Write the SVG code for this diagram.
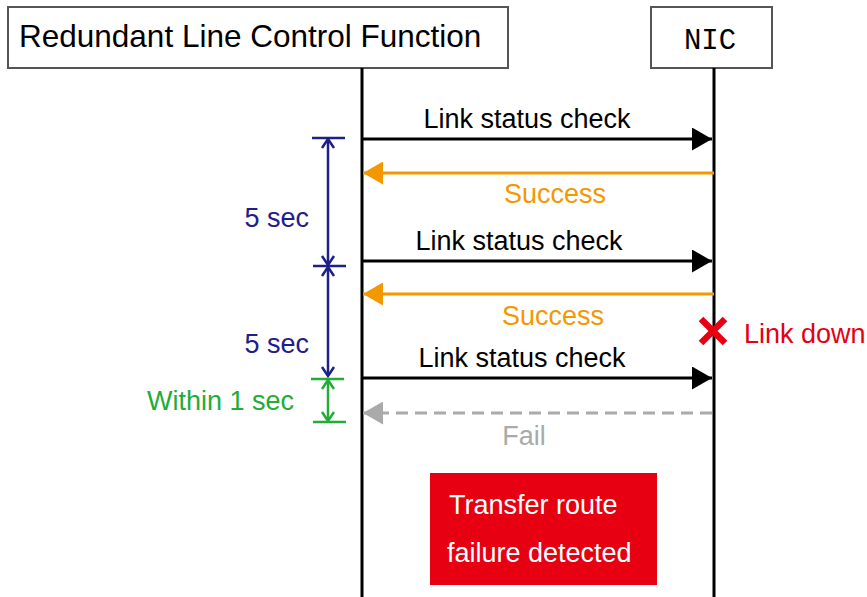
<svg xmlns="http://www.w3.org/2000/svg" width="867" height="597" viewBox="0 0 867 597">
<defs>
<style>
text{font-family:"Liberation Sans",Arial,sans-serif;font-size:27px}
.box{fill:#fff;stroke:#555;stroke-width:2}
.life{stroke:#000;stroke-width:3;fill:none}
.msg{stroke:#000;stroke-width:3;fill:none;marker-end:url(#ahBlack)}
.ok{stroke:#f39800;stroke-width:3;fill:none;marker-end:url(#ahOrange)}
.fail{stroke:#aaa;stroke-width:3;fill:none;stroke-dasharray:12 7;marker-end:url(#ahGray)}
.dimb{stroke:#1d2088;stroke-width:2.5;fill:none}
.dimg{stroke:#22ac38;stroke-width:2.5;fill:none}
.dimbA{stroke:#1d2088;stroke-width:2.5;fill:none;marker-start:url(#chB);marker-end:url(#chB)}
.dimgA{stroke:#22ac38;stroke-width:2.5;fill:none;marker-start:url(#chG);marker-end:url(#chG)}
</style>
<marker id="ahBlack" viewBox="0 0 20 23" refX="20" refY="11.5" markerWidth="20" markerHeight="23" markerUnits="userSpaceOnUse" orient="auto"><path d="M0,0 L20,11.5 L0,23 z" fill="#000"/></marker>
<marker id="ahOrange" viewBox="0 0 20 23" refX="20" refY="11.5" markerWidth="20" markerHeight="23" markerUnits="userSpaceOnUse" orient="auto"><path d="M0,0 L20,11.5 L0,23 z" fill="#f39800"/></marker>
<marker id="ahGray" viewBox="0 0 20 23" refX="20" refY="11.5" markerWidth="20" markerHeight="23" markerUnits="userSpaceOnUse" orient="auto"><path d="M0,0 L20,11.5 L0,23 z" fill="#aaa"/></marker>
<marker id="chB" viewBox="-11 -8 13 16" refX="0" refY="0" markerWidth="13" markerHeight="16" markerUnits="userSpaceOnUse" orient="auto-start-reverse"><path d="M-9,-6 L0,0 L-9,6" fill="none" stroke="#1d2088" stroke-width="2.5"/></marker>
<marker id="chG" viewBox="-11 -8 13 16" refX="0" refY="0" markerWidth="13" markerHeight="16" markerUnits="userSpaceOnUse" orient="auto-start-reverse"><path d="M-9,-6 L0,0 L-9,6" fill="none" stroke="#22ac38" stroke-width="2.5"/></marker>
</defs>
<rect width="867" height="597" fill="#fff"/>

<g id="node-rlcf">
<rect class="box" x="8" y="7" width="500" height="61"/>
<text x="19" y="47" style="font-size:31.5px">Redundant Line Control Function</text>
</g>
<g id="node-nic">
<rect class="box" x="651" y="7" width="121" height="61"/>
<text x="710" y="49" text-anchor="middle" style="font-family:'Liberation Mono','DejaVu Sans Mono',monospace;font-size:29px">NIC</text>
</g>

<g id="lifelines">
<line class="life" x1="362" y1="68" x2="362" y2="597"/>
<line class="life" x1="714" y1="68" x2="714" y2="597"/>
</g>

<g id="connectors">
<line class="msg" x1="362" y1="139" x2="712" y2="139"/>
<line class="ok" x1="714" y1="173" x2="363" y2="173"/>
<line class="msg" x1="362" y1="261" x2="712" y2="261"/>
<line class="ok" x1="714" y1="294" x2="363" y2="294"/>
<line class="msg" x1="362" y1="378" x2="712" y2="378"/>
<line class="fail" x1="712" y1="413" x2="363" y2="413"/>
</g>

<g id="labels">
<text x="527" y="128" text-anchor="middle">Link status check</text>
<text x="555" y="203" text-anchor="middle" fill="#f39800">Success</text>
<text x="519" y="250" text-anchor="middle">Link status check</text>
<text x="553" y="325" text-anchor="middle" fill="#f39800">Success</text>
<text x="522" y="367" text-anchor="middle">Link status check</text>
<text x="524" y="445" text-anchor="middle" fill="#aaa">Fail</text>
</g>

<g id="link-down">
<path d="M701,319 L725,343 M725,319 L701,343" stroke="#e60012" stroke-width="6.5" fill="none"/>
<text x="744" y="343" fill="#e60012">Link down</text>
</g>

<g id="timing">
<line class="dimb" x1="312" y1="138" x2="345" y2="138"/>
<line class="dimb" x1="313" y1="266" x2="346" y2="266"/>
<line class="dimbA" x1="328" y1="139" x2="328" y2="265"/>
<line class="dimbA" x1="328" y1="267" x2="328" y2="376"/>
<text x="309" y="227" text-anchor="end" fill="#1d2088">5 sec</text>
<text x="309" y="353" text-anchor="end" fill="#1d2088">5 sec</text>
<line class="dimg" x1="311" y1="379" x2="344" y2="379"/>
<line class="dimg" x1="313" y1="422" x2="346" y2="422"/>
<line class="dimgA" x1="328" y1="380" x2="328" y2="421"/>
<text x="294" y="410" text-anchor="end" fill="#22ac38">Within 1 sec</text>
</g>

<g id="node-detected">
<rect x="430" y="473" width="227" height="112" fill="#e60012"/>
<text x="449" y="514" fill="#fff">Transfer route</text>
<text x="447" y="562" fill="#fff">failure detected</text>
</g>
</svg>
